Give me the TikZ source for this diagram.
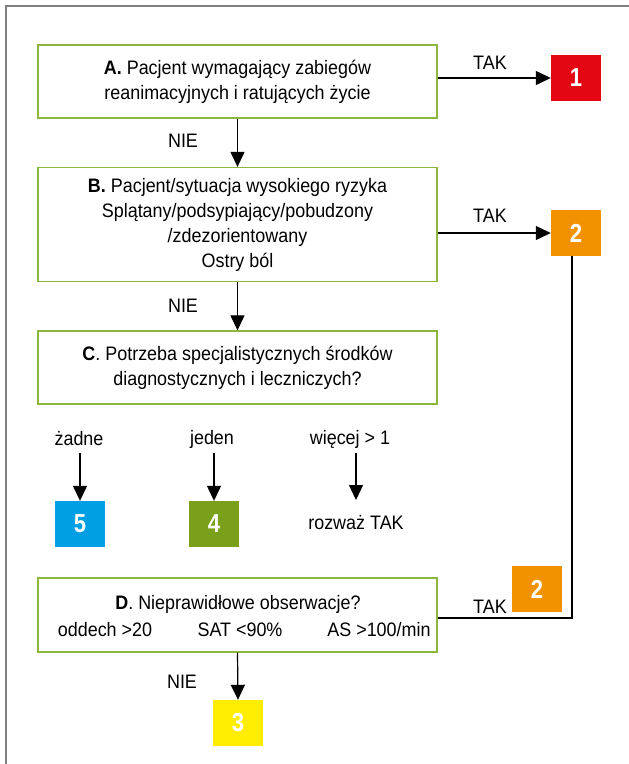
\documentclass[tikz,border=0pt]{standalone}
\usepackage{fontspec}
\setmainfont[FakeStretch=0.92]{Liberation Sans}
\newfontfamily\numfont[FakeStretch=0.85]{Liberation Sans}
\usetikzlibrary{arrows.meta}
\definecolor{boxgreen}{HTML}{8DB63C}
\definecolor{nred}{HTML}{E30613}
\definecolor{norange}{HTML}{F39200}
\definecolor{nblue}{HTML}{009FE3}
\definecolor{ngreen}{HTML}{7A9F1A}
\definecolor{nyellow}{HTML}{FFED00}
\definecolor{framegray}{HTML}{808080}
\begin{document}
\begin{tikzpicture}[x=1pt,y=-1pt,
  font=\fontsize{19.5}{25}\selectfont,
  qbox/.style={draw=boxgreen, line width=1.3pt, minimum width=399pt, align=center, inner sep=0pt},
  num/.style={minimum width=50pt, minimum height=46pt, inner sep=0pt, text=white, font=\numfont\fontsize{26}{26}\selectfont\bfseries},
  arr/.style={-{Triangle[length=15pt,width=14pt]}, line width=1.2pt},
  conn/.style={line width=1.2pt},
  lbl/.style={inner sep=0pt, align=center}]
\useasboundingbox (0,0) rectangle (629,764);
\draw[framegray, line width=2pt] (5.5,764) -- (5.5,6) -- (629,6);

% A
\node[qbox, minimum height=73pt] (A) at (237.5,81.5) {\textbf{A.} Pacjent wymagający zabiegów\\reanimacyjnych i ratujących życie};
\node[num, fill=nred] (n1) at (576,78) {1};
\draw[arr] (A.east |- n1.west) -- (n1.west);
\node[lbl] (tak1) at (490,63) {TAK};

% B
\node[qbox, minimum height=114pt] (B) at (237.5,224.5) {\textbf{B.} Pacjent/sytuacja wysokiego ryzyka\\Splątany/podsypiający/pobudzony\\/zdezorientowany\\Ostry ból};
\draw[arr] (A.south) -- (B.north);
\node[lbl] (nie1) at (183,141) {NIE};
\node[num, fill=norange] (n2) at (576,233) {2};
\draw[arr] (B.east |- n2.west) -- (n2.west);
\node[lbl] (tak2) at (490,216) {TAK};

% C
\node[qbox, minimum height=73pt] (C) at (237.5,367.5) {\textbf{C}. Potrzeba specjalistycznych środków\\diagnostycznych i leczniczych?};
\draw[arr] (B.south) -- (C.north);
\node[lbl] (nie2) at (183,306) {NIE};

% C options
\node[lbl] (zadne) at (79,439) {żadne};
\node[lbl] (jeden) at (212,439) {jeden};
\node[lbl] (wiecej) at (350,439) {więcej > 1};
\node[num, fill=nblue] (n5) at (80,524) {5};
\node[num, fill=ngreen] (n4) at (214,524) {4};
\node[lbl] (rozwaz) at (356,523) {rozważ TAK};
\coordinate (ztop) at (80,453);
\coordinate (jtop) at (214,453);
\draw[arr] (ztop) -- (n5.north);
\draw[arr] (jtop) -- (n4.north);
\coordinate (wtop) at (356,453);
\coordinate (wbot) at (356,500);
\draw[arr] (wtop) -- (wbot);

% D
\node[qbox, minimum height=74pt] (D) at (237.5,615) {};
\node[lbl] (Dt) at (238,604) {\textbf{D}. Nieprawidłowe obserwacje?};
\node[lbl] (Dr1) at (105,630) {oddech >20};
\node[lbl] (Dr2) at (240,630) {SAT <90\%};
\node[lbl] (Dr3) at (379,630) {AS >100/min};
\node[num, fill=norange] (n2b) at (537,589) {2};
\node[lbl] (tak3) at (490,607) {TAK};
\coordinate (corner) at ([xshift=-4pt]n2.south |- 0,618);
\draw[conn] ([xshift=-4pt]n2.south) -- (corner) -- (D.east |- corner);

\node[num, fill=nyellow] (n3) at (238,723) {3};
\draw[arr] (D.south) -- (n3.north);
\node[lbl] (nie3) at (182,682) {NIE};
\end{tikzpicture}
\end{document}
